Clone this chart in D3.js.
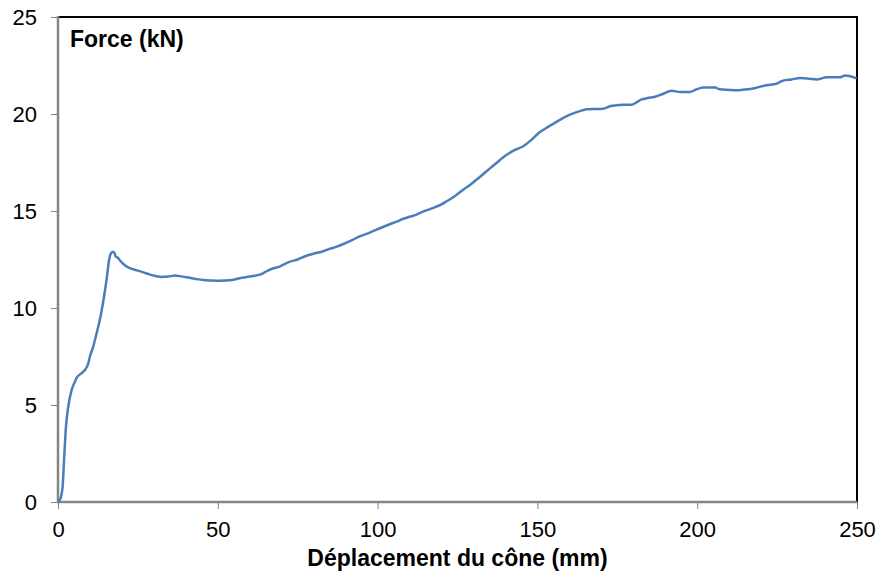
<!DOCTYPE html>
<html>
<head>
<meta charset="utf-8">
<script src="https://cdn.jsdelivr.net/npm/d3@7/dist/d3.min.js"></script>
<style>
  html, body { margin: 0; padding: 0; background: #ffffff; }
  svg { display: block; }
</style>
</head>
<body>
<svg id="chart" width="880" height="580"></svg>
<script>
const displacement = [0, 0.8, 1.45, 1.9, 2.5, 3.2, 4.3, 5.3, 5.8, 7.4, 8.4, 9.5, 10, 11, 12.6, 13.1, 14.7, 15.2, 16.1, 16.5, 17.1, 17.6, 18.1, 18.6, 19.4, 20.9, 22.5, 24.6, 26.5, 28.8, 30.5, 32.4, 34.5, 36.6, 38.5, 40.3, 43, 45.5, 48, 50.7, 53.8, 56.5, 59, 61, 63.2, 64.5, 66.3, 69.5, 72.4, 75, 77.5, 79.9, 82.5, 85, 87, 89.3, 92, 94.5, 97, 99.7, 102, 104, 106, 108, 110, 112, 114, 117.4, 119.5, 121.6, 124, 126.8, 129, 131, 134.1, 137, 140.4, 143, 145.6, 148, 150.8, 152.5, 155, 158.1, 160, 163.3, 165.4, 168, 170.6, 172.7, 175, 176.9, 179.5, 181, 182.6, 184.5, 186.8, 189, 192, 194.6, 197.7, 199.5, 201.9, 204, 205.6, 207.1, 210, 212.3, 215, 217.5, 219.5, 221.7, 224.8, 226.9, 229.5, 232.2, 235, 237.4, 240.5, 242.5, 244.7, 246.3, 247.8, 249.9];
const force = [0, 0.19, 0.8, 2.17, 3.9, 4.9, 5.8, 6.2, 6.4, 6.64, 6.8, 7.16, 7.5, 8.0, 9.05, 9.4, 10.9, 11.46, 12.58, 12.8, 12.9, 12.85, 12.65, 12.6, 12.45, 12.2, 12.05, 11.94, 11.85, 11.72, 11.65, 11.6, 11.62, 11.67, 11.63, 11.58, 11.5, 11.44, 11.42, 11.41, 11.43, 11.52, 11.6, 11.65, 11.72, 11.82, 11.98, 12.15, 12.38, 12.5, 12.68, 12.8, 12.9, 13.05, 13.15, 13.3, 13.5, 13.7, 13.85, 14.04, 14.2, 14.33, 14.45, 14.6, 14.7, 14.8, 14.95, 15.16, 15.3, 15.5, 15.75, 16.1, 16.35, 16.62, 17.05, 17.45, 17.9, 18.15, 18.34, 18.65, 19.07, 19.25, 19.5, 19.8, 19.95, 20.15, 20.24, 20.26, 20.27, 20.4, 20.45, 20.48, 20.48, 20.6, 20.75, 20.82, 20.89, 21.02, 21.2, 21.13, 21.13, 21.25, 21.36, 21.36, 21.36, 21.27, 21.24, 21.22, 21.26, 21.31, 21.4, 21.48, 21.56, 21.72, 21.78, 21.85, 21.82, 21.78, 21.9, 21.9, 21.9, 21.99, 21.95, 21.84];
const xTicks = [0, 50, 100, 150, 200, 250];
const yTicks = [0, 5, 10, 15, 20, 25];
const xTitle = "Déplacement du cône (mm)";
const yTitle = "Force (kN)";

(function () {
  const svg = d3.select("#chart");
  const pLeft = 58, pRight = 857, pTop = 17, pBottom = 502;
  const x = d3.scaleLinear().domain([0, 250]).range([pLeft, pRight]);
  const y = d3.scaleLinear().domain([0, 25]).range([pBottom, pTop]);
  const font = "'Liberation Sans', Arial, Helvetica, sans-serif";

  // plot frame (top/right black)
  svg.append("path")
    .attr("d", `M${pLeft},${pTop}H${pRight}V${pBottom}`)
    .attr("fill", "none").attr("stroke", "#000").attr("stroke-width", 2);

  const yAxis = svg.append("g").attr("transform", `translate(${pLeft},0)`)
    .call(d3.axisLeft(y).tickValues(yTicks).tickSize(7).tickPadding(14).tickFormat(d3.format("d")));
  const xAxis = svg.append("g").attr("transform", `translate(0,${pBottom})`)
    .call(d3.axisBottom(x).tickValues(xTicks).tickSize(7).tickPadding(12).tickFormat(d3.format("d")));

  [yAxis, xAxis].forEach(g => {
    g.select(".domain").attr("stroke", "#858585").attr("stroke-width", 2.5);
    g.selectAll(".tick line").attr("stroke", "#858585").attr("stroke-width", 1);
    g.selectAll(".tick text").attr("fill", "#000").attr("font-family", font).attr("font-size", 22);
  });
  yAxis.select(".domain").attr("d", `M0,${pBottom + 1}V${pTop - 1}`);
  xAxis.select(".domain").attr("d", `M${pLeft - 1},0H${pRight}`);

  const line = d3.line().x((d, i) => x(displacement[i])).y(d => y(d)).curve(d3.curveMonotoneX);
  svg.append("path")
    .datum(force)
    .attr("d", line)
    .attr("fill", "none")
    .attr("stroke", "#4a7ebb")
    .attr("stroke-width", 2.5)
    .attr("stroke-linejoin", "round");

  svg.append("text").attr("x", 70).attr("y", 46.5)
    .attr("font-family", font).attr("font-weight", "bold").attr("font-size", 23)
    .attr("fill", "#000").text(yTitle);
  svg.append("text").attr("x", (pLeft + pRight) / 2).attr("y", 566)
    .attr("text-anchor", "middle")
    .attr("font-family", font).attr("font-weight", "bold").attr("font-size", 23)
    .attr("fill", "#000").text(xTitle);
})();
</script>
</body>
</html>
